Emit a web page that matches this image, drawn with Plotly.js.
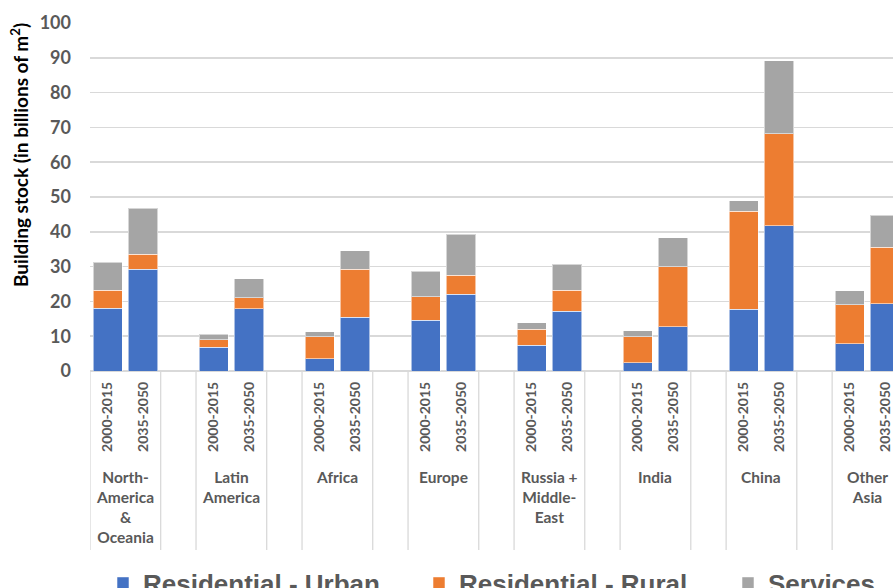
<!DOCTYPE html>
<html>
<head>
<meta charset="utf-8">
<script src="https://cdn.plot.ly/plotly-3.0.1.min.js"></script>
<style>
  html, body { margin: 0; padding: 0; overflow: hidden; background: #fff; }
  #chart { width: 893px; height: 588px; }
</style>
</head>
<body>
<div id="chart"></div>
<script>
// ---- Data ----
const regions = ["North-<br>America<br>&<br>Oceania", "Latin<br>America", "Africa", "Europe",
                 "Russia +<br>Middle-<br>East", "India", "China", "Other<br>Asia"];
const periods = ["2000-2015", "2035-2050"];
// values per region: [2000-2015, 2035-2050]
const urban    = [[18.0, 29.2], [6.8, 17.9], [3.5, 15.4], [14.6, 22.0], [7.4, 17.1], [2.4, 12.7], [17.8, 41.8], [7.8, 19.3]];
const rural    = [[5.2, 4.3],   [2.2, 3.2],  [6.4, 13.8], [6.8, 5.5],   [4.6, 6.1],  [7.5, 17.3], [28.1, 26.4], [11.3, 16.2]];
const services = [[8.0, 13.2],  [1.6, 5.4],  [1.4, 5.3],  [7.3, 11.8],  [1.8, 7.5],  [1.6, 8.3],  [3.0, 21.0],  [4.0, 9.2]];
const seriesNames  = ["Residential - Urban", "Residential - Rural", "Services"];
const seriesColors = ["#4472C4", "#ED7D31", "#A5A5A5"];
const yTicks = [0, 10, 20, 30, 40, 50, 60, 70, 80, 90, 100];

// ---- Build slot positions (2 bars per region + 1 spacer slot) ----
const SLOTS = 3;
const xs = [], tickText = [];
regions.forEach((r, g) => periods.forEach((p, i) => { xs.push(g * SLOTS + i); tickText.push(p); }));
const flat = arr => arr.flat();
const legendIds = ["legend", "legend2", "legend3"];

const traces = [urban, rural, services].map((vals, k) => ({
  type: "bar",
  name: seriesNames[k],
  legend: legendIds[k],
  x: xs,
  y: flat(vals),
  width: 0.83,
  marker: { color: seriesColors[k], line: { color: "rgba(255,255,255,0.55)", width: 1 } },
  hoverinfo: "name+y"
}));

// ---- Pixel geometry helpers ----
const W = 893, H = 588;
const L = 90, T = 23, B = 217;
const plotH = H - T - B;              // 348
const slotPx = 35.34;
const xMax = -0.5 + (W - L) / slotPx;
const pyToPaper = py => (H - B - py) / plotH;
const pxToPaper = px => (px - L) / (W - L);

const shapes = [];
regions.forEach((r, g) => {
  [g * SLOTS - 0.5, g * SLOTS + 1.5].forEach(xv => {
    shapes.push({ type: "line", xref: "x", yref: "paper", x0: xv, x1: xv,
      y0: 0, y1: pyToPaper(550), line: { color: "#D9D9D9", width: 1.3 }, layer: "below" });
  });
});

const annotations = regions.map((r, g) => ({
  xref: "x", yref: "paper", x: g * SLOTS + 0.5, y: pyToPaper(466),
  xanchor: "center", yanchor: "top", showarrow: false, text: r, align: "center",
  font: { family: "Lato, sans-serif", size: 15.5, color: "#595959", weight: 700 }
}));
annotations.push({
  xref: "paper", yref: "paper", x: pxToPaper(19), y: pyToPaper(155),
  xanchor: "center", yanchor: "middle", textangle: -90, showarrow: false,
  text: "Building stock (in billions of m<sup>2</sup>)",
  font: { family: "Lato, sans-serif", size: 19, color: "#000000", weight: 700 }
});

const legendFont = { family: "'Liberation Sans', Arial, sans-serif", size: 26, color: "#595959", weight: 700 };
const legendX = [103, 419, 728];
const mkLegend = px => ({
  orientation: "h", xref: "paper", yref: "paper",
  x: pxToPaper(px), xanchor: "left",
  y: pyToPaper(583), yanchor: "middle",
  itemwidth: 30, font: legendFont, bgcolor: "rgba(0,0,0,0)"
});

const layout = {
  width: W, height: H,
  margin: { l: L, r: 0, t: T, b: B, autoexpand: false },
  paper_bgcolor: "#ffffff", plot_bgcolor: "#ffffff",
  barmode: "stack",
  bargap: 0,
  xaxis: {
    range: [-0.5, xMax], tickmode: "array", tickvals: xs, ticktext: tickText,
    tickangle: -90, ticks: "", showgrid: false, zeroline: false,
    showline: false, ticklabelstandoff: 7,
    tickfont: { family: "Lato, sans-serif", size: 14, color: "#595959", weight: 700 },
    fixedrange: true
  },
  yaxis: {
    range: [0, 100], tickmode: "array", tickvals: yTicks, ticks: "",
    showgrid: true, gridcolor: "#D9D9D9", gridwidth: 1.5,
    zeroline: true, zerolinecolor: "#D9D9D9", zerolinewidth: 1.5,
    showline: false, ticklabelstandoff: 18,
    tickfont: { family: "Lato, sans-serif", size: 18, color: "#595959", weight: 700 },
    fixedrange: true
  },
  showlegend: true,
  legend: mkLegend(legendX[0]),
  legend2: mkLegend(legendX[1]),
  legend3: mkLegend(legendX[2]),
  shapes: shapes,
  annotations: annotations
};

Plotly.newPlot("chart", traces, layout, { displayModeBar: false, staticPlot: true });
</script>
</body>
</html>
